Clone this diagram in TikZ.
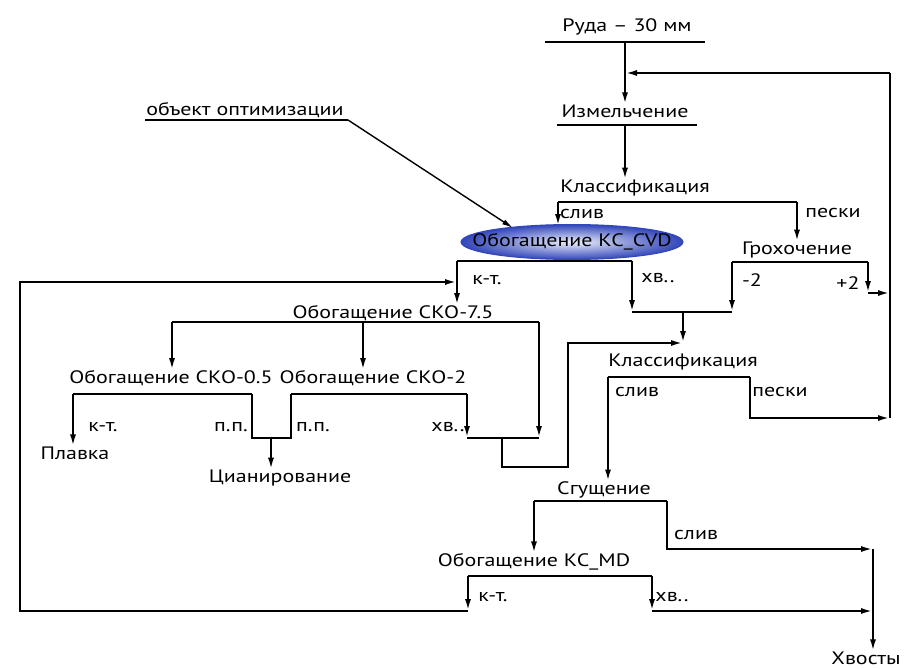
\documentclass[tikz,border=0pt]{standalone}
\usepackage{fontspec}
\setmainfont[FakeStretch=1.22]{PT Sans}
\usetikzlibrary{arrows.meta,shapes.geometric}
\definecolor{rimblue}{RGB}{50,70,185}
\definecolor{paleblue}{RGB}{235,238,252}
\begin{document}
\begin{tikzpicture}[x=1pt,y=-1pt,
  flow/.style={line width=2.2pt,line join=miter},
  arr/.style={flow,-{Latex[length=12pt,width=6pt]}},
  thin arr/.style={line width=1.4pt,-{Latex[length=11pt,width=5.5pt]}},
  txt/.style={font=\fontsize{18}{18}\selectfont,inner sep=0pt,anchor=center},
  lbl/.style={txt},
  optfill/.style={inner color=paleblue,outer color=rimblue},
  optrim/.style={draw=rimblue,line width=1pt}]
\useasboundingbox (0,0) rectangle (919,669);

% ---------- process nodes ----------
\node[txt] (ruda) at (627,27) {Руда – 30 мм};
\node[txt] (izm) at (625,111) {Измельчение};
\node[txt] (kl1) at (635,188) {Классификация};
\node[txt] (groh) at (797,250) {Грохочение};
\node[txt] (sko75) at (393,313) {Обогащение СКО-7.5};
\node[txt] (sko05) at (171,378) {Обогащение СКО-0.5};
\node[txt] (sko2) at (373,378) {Обогащение СКО-2};
\node[txt] (plavka) at (75,453) {Плавка};
\node[txt] (cian) at (280,478) {Цианирование};
\node[txt] (kl2) at (683,362) {Классификация};
\node[txt] (sgush) at (604,490) {Сгущение};
\node[txt] (kcmd) at (534,562) {Обогащение КС\_MD};
\node[txt] (hvost) at (866,658) {Хвосты};
\node[txt] (obj) at (245,110) {объект оптимизации};

% ---------- coordinates ----------
\coordinate (rudaL) at (545,42);  \coordinate (rudaR) at (705,42);  \coordinate (rudaB) at (625,42);
\coordinate (izmL) at (557,125);  \coordinate (izmR) at (697,125);  \coordinate (izmB) at (625,125);
\coordinate (fbTop) at (625,73);  \coordinate (fbR) at (890,73);
\coordinate (k1L) at (558,202);   \coordinate (k1R) at (797,202);
\coordinate (cvdIn) at (558,226);
\coordinate (cL) at (457,261);    \coordinate (cR) at (632,261);
\coordinate (gL) at (732,262);    \coordinate (gR) at (868,262);
\coordinate (gRb) at (868,293);   \coordinate (gRj) at (890,293);
\coordinate (mL) at (632,312);    \coordinate (mR) at (732,312);
\coordinate (mC) at (683,312);    \coordinate (k2In) at (683,343);
\coordinate (fb1) at (457,282);
\coordinate (s75L) at (172,322);  \coordinate (s75M) at (363,322);  \coordinate (s75R) at (539,322);
\coordinate (s05L) at (73,394);   \coordinate (s05R) at (252,394);
\coordinate (s2L) at (291,394);   \coordinate (s2R) at (467,394);
\coordinate (ppL) at (252,438);   \coordinate (ppR) at (291,438);   \coordinate (ppC) at (271,438);
\coordinate (hvL) at (467,438);   \coordinate (hvR) at (539,438);   \coordinate (hvC) at (502,438);
\coordinate (hvB) at (502,467);   \coordinate (hvB2) at (568,467);  \coordinate (hvU) at (568,343);
\coordinate (k2L) at (608,377);   \coordinate (k2R) at (750,377);
\coordinate (k2Rb) at (750,418);  \coordinate (fbB) at (890,418);
\coordinate (sgL) at (534,501);   \coordinate (sgR) at (667,501);
\coordinate (sgRb) at (667,549);  \coordinate (tJ1) at (873,549);
\coordinate (mdL) at (468,576);   \coordinate (mdR) at (652,576);
\coordinate (mdLb) at (468,611);  \coordinate (mdRb) at (652,611);
\coordinate (tJ2) at (873,611);
\coordinate (fbLB) at (20,611);   \coordinate (fbLT) at (20,282);
\coordinate (objL) at (145,120);  \coordinate (objR) at (348,120);
\coordinate (objTip) at (513,228);
\coordinate (cvdC) at (572,242);

% ---------- lines drawn under the ellipse ----------
\draw[flow] (cL) -- (cR);

% ---------- optimisation object ----------
\shade[optfill] (cvdC) ellipse [x radius=111pt, y radius=17.5pt];
\draw[optrim] (cvdC) ellipse [x radius=111pt, y radius=17.5pt];
\node[txt] (cvd) at (cvdC) {Обогащение КС\_CVD};

% ---------- underlines / output lines ----------
\draw[flow] (rudaL) -- (rudaR);
\draw[flow] (izmL) -- (izmR);
\draw[flow] (k1L) -- (k1R);
\draw[flow] (gL) -- (gR);
\draw[flow] (s75L) -- (s75R);
\draw[flow] (s05L) -- (s05R);
\draw[flow] (s2L) -- (s2R);
\draw[flow] (k2L) -- (k2R);
\draw[flow] (sgL) -- (sgR);
\draw[flow] (mdL) -- (mdR);
\draw[flow] (objL) -- (objR);

% ---------- connectors ----------
\draw[arr] (rudaB) -- (rudaB |- izm.north);
\draw[arr] (fbR) -- (fbTop);
\draw[arr] (izmB) -- (izmB |- kl1.north);
\draw[arr] (k1L) -- (cvdIn);
\draw[arr] (k1R) -- (k1R |- groh.north);
\draw[arr] (cL) -- (cL |- sko75.north);
\draw[arr] (cR) -- (mL);
\draw[arr] (gL) -- (mR);
\draw[flow] (mL) -- (mR);
\draw[arr] (gR) -- (gRb);
\draw[arr] (gRb) -- (gRj);
\draw[arr] (mC) -- (k2In);
\draw[arr] (s75L) -- (s75L |- sko05.north);
\draw[arr] (s75M) -- (s75M |- sko2.north);
\draw[arr] (s75R) -- (hvR);
\draw[arr] (s05L) -- (s05L |- plavka.north);
\draw[flow] (s05R) -- (ppL) -- (ppR) -- (s2L);
\draw[arr] (ppC) -- (ppC |- cian.north);
\draw[arr] (s2R) -- (hvL);
\draw[flow] (hvL) -- (hvR);
\draw[arr] (hvC) -- (hvB) -- (hvB2) -- (hvU) -- (k2In);
\draw[arr] (k2L) -- (k2L |- sgush.north);
\draw[arr] (k2R) -- (k2Rb) -- (fbB);
\draw[flow] (fbB) -- (fbR);
\draw[arr] (sgL) -- (sgL |- kcmd.north);
\draw[arr] (sgR) -- (sgRb) -- (tJ1);
\draw[arr] (mdL) -- (mdLb);
\draw[arr] (mdLb) -- (fbLB) -- (fbLT) -- (fb1);
\draw[arr] (mdR) -- (mdRb);
\draw[arr] (mdRb) -- (tJ2);
\draw[arr] (tJ1) -- (tJ1 |- hvost.north);
\draw[thin arr] (objR) -- (objTip);

% ---------- stream labels ----------
\node[lbl] (l1) at (582,214) {слив};
\node[lbl] (l2) at (833,213) {пески};
\node[lbl] (l3) at (487,280) {к-т.};
\node[lbl] (l4) at (658,278) {хв..};
\node[lbl] (l5) at (752,280) {-2};
\node[lbl] (l6) at (848,283) {+2};
\node[lbl] (l7) at (103,427) {к-т.};
\node[lbl] (l8) at (231,427) {п.п.};
\node[lbl] (l9) at (313,427) {п.п.};
\node[lbl] (l10) at (448,427) {хв..};
\node[lbl] (l11) at (637,392) {слив};
\node[lbl] (l12) at (780,392) {пески};
\node[lbl] (l13) at (696,535) {слив};
\node[lbl] (l14) at (493,597) {к-т.};
\node[lbl] (l15) at (672,597) {хв..};
\end{tikzpicture}
\end{document}
